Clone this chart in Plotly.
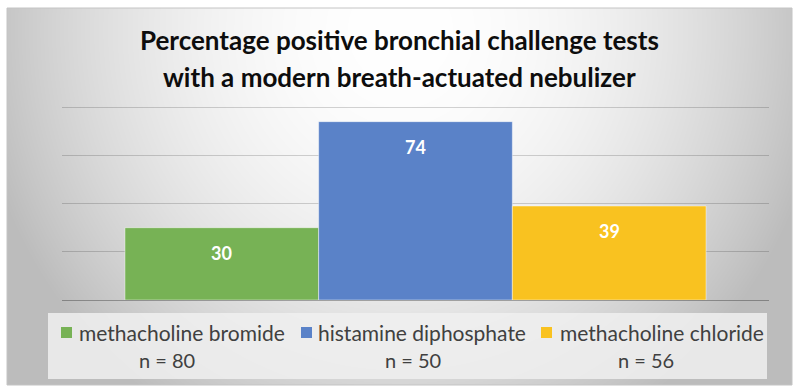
import base64, struct, zlib
import numpy as np
import plotly.graph_objects as go

# ---- data ----
categories = ["methacholine bromide", "histamine diphosphate", "methacholine chloride"]
values = [30, 74, 39]
sample_sizes = ["n = 80", "n = 50", "n = 56"]
colors = ["#77b255", "#5a82c8", "#f9c220"]
title_lines = ["Percentage positive bronchial challenge tests",
               "with a modern breath-actuated nebulizer"]

W, H = 800, 392
L, R, T, B = 62, 31, 106, 92
PW, PH = W - L - R, H - T - B


def px(x):
    return (x - L) / PW


def py(y):
    return (H - B - y) / PH


# ---- gradient background image (radial, white near top centre) ----
fx0, fy0, fx1, fy1 = 7, 8, 792, 385
gw, gh = fx1 - fx0, fy1 - fy0
xs = np.arange(gw) + fx0
ys = np.arange(gh) + fy0
X, Y = np.meshgrid(xs, ys)
d2 = ((X - 400) / 400.0) ** 2 + ((Y - 30) / 420.0) ** 2
img = np.clip(255 - 58 * d2, 188, 255).astype(np.uint8)


def png_gray(arr):
    h, w = arr.shape
    raw = b"".join(b"\x00" + arr[i].tobytes() for i in range(h))

    def chunk(t, d):
        c = struct.pack(">I", len(d)) + t + d
        return c + struct.pack(">I", zlib.crc32(t + d) & 0xFFFFFFFF)

    ihdr = struct.pack(">IIBBBBB", w, h, 8, 0, 0, 0, 0)
    return (b"\x89PNG\r\n\x1a\n" + chunk(b"IHDR", ihdr)
            + chunk(b"IDAT", zlib.compress(raw, 9)) + chunk(b"IEND", b""))


src = "data:image/png;base64," + base64.b64encode(png_gray(img)).decode()

fig = go.Figure()
for i, (cat, val, col) in enumerate(zip(categories, values, colors)):
    fig.add_trace(go.Bar(
        x=[i], y=[val], width=1, name=cat,
        marker=dict(color=col, line=dict(color="rgba(255,255,255,0.45)", width=1)),
        showlegend=False, hoverinfo="name+y",
    ))
    fig.add_annotation(x=i, y=val, xref="x", yref="y", text=str(val),
                       showarrow=False, yanchor="middle", yshift=-25,
                       font=dict(family="Lato", size=18, color="white", weight="bold"))

# title
for txt, yy in zip(title_lines, [40, 77]):
    fig.add_annotation(x=px(399), y=py(yy), xref="paper", yref="paper", text=txt,
                       showarrow=False, xanchor="center", yanchor="middle",
                       font=dict(family="Lato", size=26, color="#0d0d0d", weight="bold"))

shapes = [
    dict(type="rect", xref="paper", yref="paper", x0=px(fx0), x1=px(fx1),
         y0=py(fy0), y1=py(fy1), line=dict(color="#c4c4c4", width=1),
         fillcolor="rgba(0,0,0,0)", layer="below"),
    dict(type="rect", xref="paper", yref="paper", x0=px(48), x1=px(767),
         y0=py(313), y1=py(379), line=dict(width=0),
         fillcolor="rgba(240,240,240,0.85)", layer="below"),
]

# manual legend
sq_x = [61, 301, 541]
txt_x = [77, 316, 558]
n_x = [167, 413, 646]
for cat, n, col, sx, tx, nx in zip(categories, sample_sizes, colors, sq_x, txt_x, n_x):
    shapes.append(dict(type="rect", xref="paper", yref="paper", x0=px(sx), x1=px(sx + 11),
                       y0=py(327), y1=py(338), fillcolor=col, line=dict(width=0)))
    fig.add_annotation(x=px(tx), y=py(332), xref="paper", yref="paper", text=cat,
                       showarrow=False, xanchor="left", yanchor="middle",
                       font=dict(family="Lato", size=21, color="#404040"))
    fig.add_annotation(x=px(nx), y=py(360), xref="paper", yref="paper", text=n,
                       showarrow=False, xanchor="center", yanchor="middle",
                       font=dict(family="Lato", size=20, color="#404040"))

fig.update_layout(
    width=W, height=H,
    margin=dict(l=L, r=R, t=T, b=B, pad=0),
    paper_bgcolor="white", plot_bgcolor="rgba(0,0,0,0)",
    barmode="overlay",
    shapes=shapes,
    images=[dict(source=src, xref="paper", yref="paper", x=px(fx0), y=py(fy0),
                 sizex=gw / PW, sizey=gh / PH, xanchor="left", yanchor="top",
                 sizing="stretch", layer="below")],
    xaxis=dict(range=[-0.825, 2.825], showgrid=False, showticklabels=False,
               zeroline=False, showline=False, ticks=""),
    yaxis=dict(range=[0, 80.5], tickvals=[0, 20, 40, 60, 80], showgrid=True,
               gridcolor="rgba(0,0,0,0.17)", gridwidth=1, showticklabels=False,
               zeroline=True, zerolinecolor="rgba(0,0,0,0.3)", zerolinewidth=1, ticks=""),
    font=dict(family="Lato"),
)

fig.write_html("out.html", config={"displayModeBar": False},
               post_script="document.body.style.margin='0px';")
